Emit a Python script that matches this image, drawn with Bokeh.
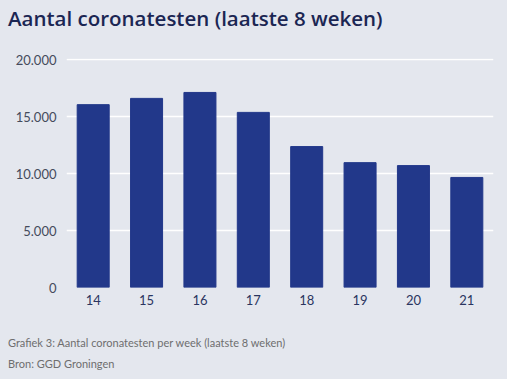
from bokeh.plotting import figure
from bokeh.models import ColumnDataSource, FixedTicker, Range1d, FactorRange, Div
from bokeh.layouts import column
from bokeh.embed import file_html
from bokeh.resources import INLINE

weeks = ["14", "15", "16", "17", "18", "19", "20", "21"]
tests = [16050, 16600, 17120, 15370, 12370, 10960, 10700, 9660]
y_ticks = [0, 5000, 10000, 15000, 20000]
y_tick_labels = ["0", "5.000", "10.000", "15.000", "20.000"]

title_text = "Aantal coronatesten (laatste 8 weken)"
caption_text = "Grafiek 3: Aantal coronatesten per week (laatste 8 weken)"
source_text = "Bron: GGD Groningen"

BG = "#e4e7ee"
BAR = "#22388a"

source = ColumnDataSource(data=dict(week=weeks, tests=tests))

p = figure(
    width=507, height=285,
    x_range=FactorRange(factors=weeks, range_padding=0),
    y_range=Range1d(0, 20100),
    output_backend="svg", toolbar_location=None,
    background_fill_color=BG, border_fill_color=BG,
    min_border_left=66, min_border_right=14, min_border_top=14, min_border_bottom=42,
)
p.outline_line_color = None
p.margin = 0

p.vbar(x="week", top="tests", width=0.6, source=source, fill_color=BAR, line_color=BAR)

p.xgrid.grid_line_color = None
p.ygrid.grid_line_color = "white"
p.ygrid.grid_line_width = 1.5

p.yaxis.ticker = FixedTicker(ticks=y_ticks)
p.yaxis.major_label_overrides = dict(zip(y_ticks, y_tick_labels))
for ax in (p.xaxis, p.yaxis):
    ax.axis_line_color = None
    ax.major_tick_line_color = None
    ax.minor_tick_line_color = None
    ax.major_tick_out = 0
    ax.major_tick_in = 0
    ax.major_label_text_font = "Lato"
    ax.major_label_text_font_size = "13px"
p.yaxis.major_label_text_color = "#454b5c"
p.xaxis.major_label_text_color = "#2a3560"
p.yaxis.major_label_standoff = 10
p.xaxis.major_label_standoff = 7

title_div = Div(
    text=(f'<div style="font-family:\'Open Sans\';font-size:20.5px;font-weight:600;'
          f'color:#1b2653;line-height:36px;padding-left:8px;white-space:nowrap;">{title_text}</div>'),
    width=507, height=44, margin=0,
    styles={"background-color": BG},
)
caption_div = Div(
    text=(f'<div style="font-family:Lato;font-size:11px;color:#6e6e6e;line-height:21px;'
          f'padding-top:2.5px;padding-left:8px;white-space:nowrap;">{caption_text}<br>{source_text}</div>'),
    width=507, height=50, margin=0,
    styles={"background-color": BG},
)

layout = column(title_div, p, caption_div, spacing=0)

open("out.html", "w").write(file_html(layout, INLINE,
    template="{% block postamble %}<style>body{background:#e4e7ee;}</style>{% endblock %}"))
